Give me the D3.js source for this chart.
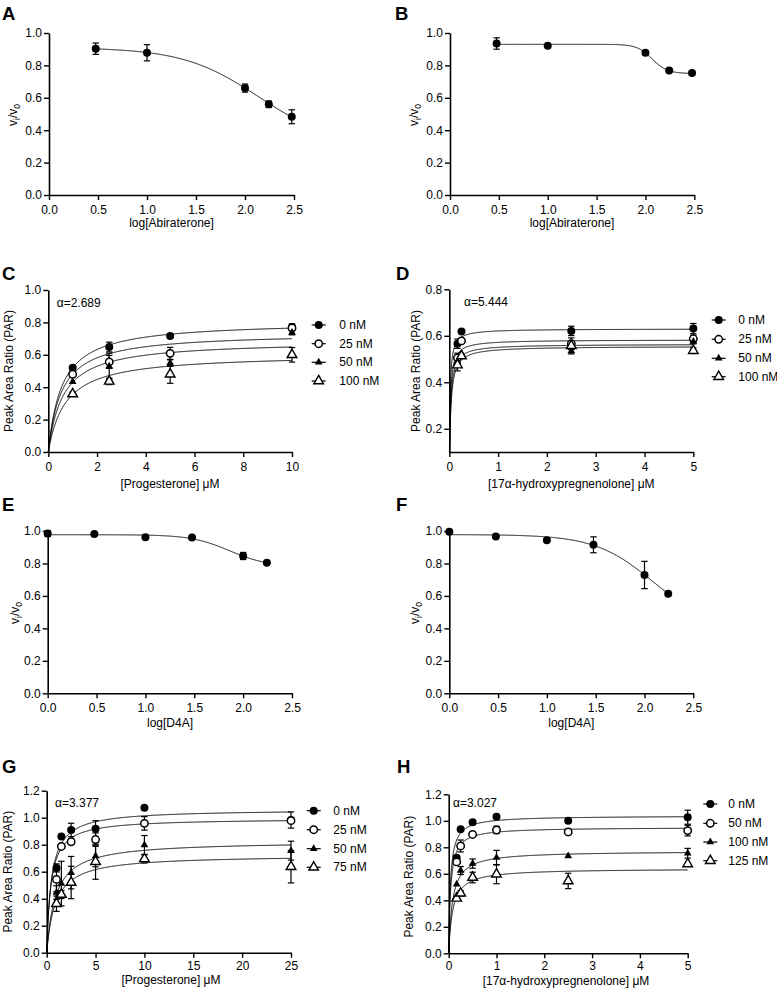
<!DOCTYPE html>
<html><head><meta charset="utf-8">
<script src="https://cdn.jsdelivr.net/npm/d3@7"></script>
<style>body{margin:0;background:#fff}svg{display:block}</style>
</head><body><svg id="c" width="777" height="988"></svg>
<script>
// ================= DATA =================
// Panels A/B : log[Abiraterone]
const abiDose = [0.477, 1.0, 2.0, 2.243, 2.477];
const aVals = [0.903, 0.878, 0.66, 0.56, 0.483];
const aErr  = [0.035, 0.05, 0.025, 0.02, 0.043];
const aFit  = [0.91, 0.30, 2.142, 1.12];   // top, bottom, logIC50, hill
const bVals = [0.935, 0.922, 0.878, 0.768, 0.753];
const bErr  = [0.035, 0, 0, 0, 0];
const bFit  = [0.93, 0.75, 2.069, 5.6];
// Panels E/F : log[D4A]
const d4aDose = [0, 0.477, 1.0, 1.477, 2.0, 2.243];
const eVals = [0.984, 0.982, 0.962, 0.960, 0.846, 0.804];
const eErr  = [0.018, 0, 0, 0, 0.022, 0];
const eFit  = [0.977, 0.78, 1.86, 2.2];
const fVals = [0.995, 0.966, 0.943, 0.915, 0.729, 0.614];
const fErr  = [0, 0, 0, 0.049, 0.084, 0];
const fFit  = [0.978, 0.40, 2.085, 1.46];
// Panel C : [Progesterone]
const cConc = [1, 2.5, 5, 10];
const cLevels = ["0 nM", "25 nM", "50 nM", "100 nM"];
const c0 = [0.52, 0.648, 0.716, 0.772],   c0Err = [0, 0.03, 0, 0.02];
const c25 = [0.48, 0.556, 0.609, 0.765],  c25Err = [0, 0.04, 0.037, 0.015];
const c50 = [0.434, 0.53, 0.549, 0.738],  c50Err = [0, 0.08, 0.02, 0.015];
const c100 = [0.358, 0.436, 0.48, 0.60],  c100Err = [0.012, 0.02, 0.056, 0.045];
const cVmax = [0.807, 0.737, 0.687, 0.605];
const cKm = [0.552, 0.536, 0.597, 0.704];
const cAlpha = "α=2.689";
// Panel D : [17α-hydroxypregnenolone]
const dConc = [0.167, 0.25, 2.5, 5];
const dLevels = ["0 nM", "25 nM", "50 nM", "100 nM"];
const d0 = [0.566, 0.618, 0.621, 0.631],   d0Err = [0.02, 0, 0.02, 0.022];
const d25 = [0.505, 0.578, 0.566, 0.587],  d25Err = [0.02, 0, 0.025, 0.015];
const d50 = [0.488, 0.524, 0.534, 0.575],  d50Err = [0.02, 0, 0.012, 0.01];
const d100 = [0.474, 0.513, 0.557, 0.536], d100Err = [0.025, 0, 0.015, 0.012];
const dVmax = [0.630, 0.583, 0.564, 0.555];
const dKm = [0.015, 0.02, 0.025, 0.03];
const dAlpha = "α=5.444";
// Panel G : [Progesterone]
const gConc = [1, 1.5, 2.5, 5, 10, 25];
const gLevels = ["0 nM", "25 nM", "50 nM", "75 nM"];
const g0 = [0.628, 0.86, 0.909, 0.918, 1.074, 0.983],   g0Err = [0.03, 0, 0.05, 0.06, 0, 0.06];
const g25 = [0.543, 0.787, 0.822, 0.838, 0.958, 0.978], g25Err = [0.09, 0, 0.02, 0.05, 0.05, 0];
const g50 = [0.446, 0.512, 0.593, 0.716, 0.798, 0.756], g50Err = [0.05, 0.165, 0.12, 0.08, 0.07, 0.07];
const g75 = [0.363, 0.431, 0.52, 0.674, 0.695, 0.637],  g75Err = [0.057, 0.03, 0.12, 0.13, 0.03, 0.12];
const gVmax = [1.062, 0.995, 0.827, 0.724];
const gKm = [0.473, 0.43, 0.907, 0.884];
const gAlpha = "α=3.377";
// Panel H : [17α-hydroxypregnenolone]
const hConc = [0.167, 0.25, 0.5, 1, 2.5, 5];
const hLevels = ["0 nM", "50 nM", "100 nM", "125 nM"];
const h0 = [0.722, 0.937, 0.989, 1.03, 1.0, 1.027],     h0Err = [0.015, 0, 0, 0, 0, 0.053];
const h50 = [0.69, 0.81, 0.897, 0.931, 0.916, 0.926],   h50Err = [0, 0.045, 0, 0.028, 0.02, 0.04];
const h100 = [0.521, 0.625, 0.677, 0.722, 0.735, 0.755], h100Err = [0, 0.03, 0.035, 0.055, 0, 0.037];
const h125 = [0.415, 0.453, 0.572, 0.597, 0.546, 0.674], h125Err = [0.015, 0.02, 0.04, 0.072, 0.058, 0];
const hVmax = [1.038, 0.951, 0.772, 0.64];
const hKm = [0.0358, 0.040, 0.0787, 0.0836];
const hAlpha = "α=3.027";
// Axis ticks
const logTicks = [0, 0.5, 1, 1.5, 2, 2.5];
const ratioTicks = [0, 0.2, 0.4, 0.6, 0.8, 1.0];
const cTicks = [0, 2, 4, 6, 8, 10];
const dTicks = [0, 1, 2, 3, 4, 5];
const dYTicks = [0.2, 0.4, 0.6, 0.8];
const gTicks = [0, 5, 10, 15, 20, 25];
const parTicks = [0, 0.2, 0.4, 0.6, 0.8, 1.0, 1.2];

// ================= DRAWING =================
const FONT = '"Liberation Sans", Arial, Helvetica, sans-serif';
const FS = 12;
const svg = d3.select("#c").attr("font-family", FONT);
const defs = svg.append("defs");

const sigmoid = (p) => (x) => p[1] + (p[0] - p[1]) / (1 + Math.pow(10, (x - p[2]) * p[3]));
const mm = (V, K) => (x) => V * x / (K + x);

function marker(sel, k, cx, cy) {
  if (k === 0) sel.append("circle").attr("cx", cx).attr("cy", cy).attr("r", 4).attr("fill", "#000");
  else if (k === 1) sel.append("circle").attr("cx", cx).attr("cy", cy).attr("r", 3.7).attr("fill", "#fff").attr("stroke", "#000").attr("stroke-width", 1.5);
  else if (k === 2) sel.append("path").attr("transform", `translate(${cx},${cy})`).attr("d", d3.symbol().type(d3.symbolTriangle).size(26)()).attr("fill", "#000");
  else sel.append("path").attr("transform", `translate(${cx},${cy})`).attr("d", d3.symbol().type(d3.symbolTriangle).size(40)()).attr("fill", "#fff").attr("stroke", "#000").attr("stroke-width", 1.4);
}

function vTitle(t) {
  t.append("tspan").text("v");
  t.append("tspan").attr("font-size", 8.5).attr("dy", 3).text("i");
  t.append("tspan").attr("dy", -3).text("/v");
  t.append("tspan").attr("font-size", 8.5).attr("dy", 3).text("0");
}

function panel(cfg) {
  const g = svg.append("g");
  const x = d3.scaleLinear().domain(cfg.xd).range([cfg.x0, cfg.x1]);
  const y = d3.scaleLinear().domain(cfg.yd).range([cfg.yB, cfg.yT]);
  const cid = "clip" + cfg.letter;
  defs.append("clipPath").attr("id", cid).append("rect")
    .attr("x", cfg.x0 - 2).attr("y", cfg.yT - 20).attr("width", cfg.x1 - cfg.x0 + 20).attr("height", cfg.yB - cfg.yT + 20);

  const ax = g.append("g").attr("transform", `translate(0,${cfg.yB})`)
    .call(d3.axisBottom(x).tickValues(cfg.xt).tickFormat(d3.format(cfg.xf)).tickSize(5).tickSizeOuter(0).tickPadding(cfg.xpad || 5));
  const ay = g.append("g").attr("transform", `translate(${cfg.x0},0)`)
    .call(d3.axisLeft(y).tickValues(cfg.yt).tickFormat(d3.format(".1f")).tickSize(5).tickSizeOuter(0).tickPadding(2));
  [ax, ay].forEach(a => {
    a.select(".domain").attr("stroke", "#000").attr("stroke-width", 1.6);
    a.selectAll(".tick line").attr("stroke", "#000").attr("stroke-width", 1.4);
    a.selectAll("text").attr("font-size", FS).attr("font-family", FONT).attr("fill", "#000");
  });

  g.append("text").attr("x", cfg.lp[0]).attr("y", cfg.lp[1]).attr("font-size", 18.5).attr("font-weight", "bold").text(cfg.letter);
  g.append("text").attr("x", cfg.xtp[0]).attr("y", cfg.xtp[1] + 4).attr("text-anchor", "middle").attr("font-size", FS).text(cfg.xTitle);
  const yt = g.append("text").attr("transform", `translate(${cfg.ytp[0] + 4},${cfg.ytp[1]}) rotate(-90)`)
    .attr("text-anchor", "middle").attr("font-size", FS);
  if (cfg.yTitle === "v") vTitle(yt); else yt.text(cfg.yTitle);

  const series = cfg.series;
  const line = d3.line().x(d => x(d[0])).y(d => y(d[1]));
  const cg = g.append("g").attr("clip-path", `url(#${cid})`);
  series.forEach(s => {
    const f = s.fn;
    const n = 800;
    const pts = d3.range(n + 1).map(i => {
      const t = i / n;
      const xv = cfg.cx[0] + (cfg.cx[1] - cfg.cx[0]) * (cfg.mm ? t * t : t);
      return [xv, f(xv)];
    });
    cg.append("path").attr("d", line(pts)).attr("fill", "none").attr("stroke", "#000").attr("stroke-width", 1);
  });
  series.forEach(s => {
    s.vals.forEach((v, i) => {
      const e = s.err[i];
      if (!e) return;
      const px = x(s.xs[i]);
      const y1 = y(v - e), y2 = y(v + e);
      g.append("line").attr("x1", px).attr("x2", px).attr("y1", y1).attr("y2", y2).attr("stroke", "#000").attr("stroke-width", 1.2);
      [y1, y2].forEach(yy => g.append("line").attr("x1", px - 3.2).attr("x2", px + 3.2).attr("y1", yy).attr("y2", yy).attr("stroke", "#000").attr("stroke-width", 1.2));
    });
  });
  series.forEach((s) => {
    s.vals.forEach((v, i) => marker(g, s.shape, x(s.xs[i]), y(v)));
  });
  if (cfg.legend) {
    cfg.legend.labels.forEach((lab, k) => {
      const ry = cfg.legend.rows[k];
      g.append("line").attr("x1", cfg.legend.lx).attr("x2", cfg.legend.lx + 14).attr("y1", ry).attr("y2", ry).attr("stroke", "#000").attr("stroke-width", 1.2);
      marker(g, k, cfg.legend.lx + 7, ry);
      g.append("text").attr("x", cfg.legend.tx).attr("y", ry + 4).attr("font-size", FS).text(lab);
    });
  }
  if (cfg.alpha) {
    g.append("text").attr("x", cfg.alpha.p[0]).attr("y", cfg.alpha.p[1] + 4).attr("font-size", FS).text(cfg.alpha.t);
  }
}

function mmSeries(xs, valsArr, errArr, V, K) {
  return valsArr.map((vals, k) => ({ xs, vals, err: errArr[k], shape: k, fn: mm(V[k], K[k]) }));
}

panel({ letter: "A", lp: [2, 20], x0: 49, x1: 294, yT: 33, yB: 195, xd: [0, 2.5], xt: logTicks, xf: ".1f", yd: [0, 1], yt: ratioTicks,
  xTitle: "log[Abiraterone]", xtp: [171.5, 223], yTitle: "v", ytp: [13, 115], cx: [abiDose[0], abiDose[abiDose.length - 1]],
  series: [{ xs: abiDose, vals: aVals, err: aErr, shape: 0, fn: sigmoid(aFit) }] });
panel({ letter: "B", lp: [395, 20], x0: 450, x1: 694.3, yT: 33, yB: 195, xd: [0, 2.5], xt: logTicks, xf: ".1f", yd: [0, 1], yt: ratioTicks,
  xTitle: "log[Abiraterone]", xtp: [572, 223], yTitle: "v", ytp: [414, 115], cx: [abiDose[0], abiDose[abiDose.length - 1]],
  series: [{ xs: abiDose, vals: bVals, err: bErr, shape: 0, fn: sigmoid(bFit) }] });
panel({ letter: "C", lp: [2, 280], x0: 48.3, x1: 292, yT: 290, yB: 452, xd: [0, 10], xt: cTicks, xf: "d", yd: [0, 1], yt: ratioTicks,
  xTitle: "[Progesterone] μM", xtp: [170, 483.5], yTitle: "Peak Area Ratio (PAR)", ytp: [8.5, 371], cx: [0, 10], mm: true,
  series: mmSeries(cConc, [c0, c25, c50, c100], [c0Err, c25Err, c50Err, c100Err], cVmax, cKm),
  legend: { labels: cLevels, lx: 311.7, tx: 339.3, rows: [325, 343.7, 362.3, 381] }, alpha: { t: cAlpha, p: [56.7, 302.7] } });
panel({ letter: "D", lp: [396, 280], x0: 449.3, x1: 693.3, yT: 289.3, yB: 452, xd: [0, 5], xt: dTicks, xf: "d", yd: [0.1, 0.8], yt: dYTicks,
  xTitle: "[17α-hydroxypregnenolone] μM", xtp: [571.3, 483.5], yTitle: "Peak Area Ratio (PAR)", ytp: [416, 371], cx: [0, 5], mm: true,
  series: mmSeries(dConc, [d0, d25, d50, d100], [d0Err, d25Err, d50Err, d100Err], dVmax, dKm),
  legend: { labels: dLevels, lx: 711.7, tx: 738.3, rows: [320, 339.3, 358.3, 376.7] }, alpha: { t: dAlpha, p: [464, 301.7] } });
panel({ letter: "E", lp: [2, 511], x0: 47.7, x1: 292, yT: 531, yB: 693.3, xd: [0, 2.5], xt: logTicks, xf: ".1f", yd: [0, 1], yt: ratioTicks,
  xTitle: "log[D4A]", xtp: [170, 723], yTitle: "v", ytp: [15, 613], cx: [d4aDose[0], d4aDose[d4aDose.length - 1]],
  series: [{ xs: d4aDose, vals: eVals, err: eErr, shape: 0, fn: sigmoid(eFit) }] });
panel({ letter: "F", lp: [396, 511], x0: 449.3, x1: 693.3, yT: 531, yB: 693.3, xd: [0, 2.5], xt: logTicks, xf: ".1f", yd: [0, 1], yt: ratioTicks,
  xTitle: "log[D4A]", xtp: [571.3, 723], yTitle: "v", ytp: [415, 613], cx: [d4aDose[0], d4aDose[d4aDose.length - 1]],
  series: [{ xs: d4aDose, vals: fVals, err: fErr, shape: 0, fn: sigmoid(fFit) }] });
panel({ letter: "G", lp: [2, 773], x0: 46.7, x1: 291, yT: 790.7, yB: 952.7, xd: [0, 25], xt: gTicks, xf: "d", yd: [0, 1.2], yt: parTicks, xpad: 3.5,
  xTitle: "[Progesterone] μM", xtp: [171, 979.5], yTitle: "Peak Area Ratio (PAR)", ytp: [7.5, 871.7], cx: [0, 25], mm: true,
  series: mmSeries(gConc, [g0, g25, g50, g75], [g0Err, g25Err, g50Err, g75Err], gVmax, gKm),
  legend: { labels: gLevels, lx: 306.7, tx: 333.3, rows: [810.7, 829.7, 848.7, 867.3] }, alpha: { t: gAlpha, p: [55, 802.7] } });
panel({ letter: "H", lp: [397, 773], x0: 448.7, x1: 687.7, yT: 794.3, yB: 953.3, xd: [0, 5], xt: dTicks, xf: "d", yd: [0, 1.2], yt: parTicks, xpad: 3.5,
  xTitle: "[17α-hydroxypregnenolone] μM", xtp: [566, 981], yTitle: "Peak Area Ratio (PAR)", ytp: [408.5, 876.7], cx: [0, 5], mm: true,
  series: mmSeries(hConc, [h0, h50, h100, h125], [h0Err, h50Err, h100Err, h125Err], hVmax, hKm),
  legend: { labels: hLevels, lx: 703.3, tx: 728.3, rows: [804, 823.3, 842, 860.7] }, alpha: { t: hAlpha, p: [453, 803.3] } });
</script></body></html>
